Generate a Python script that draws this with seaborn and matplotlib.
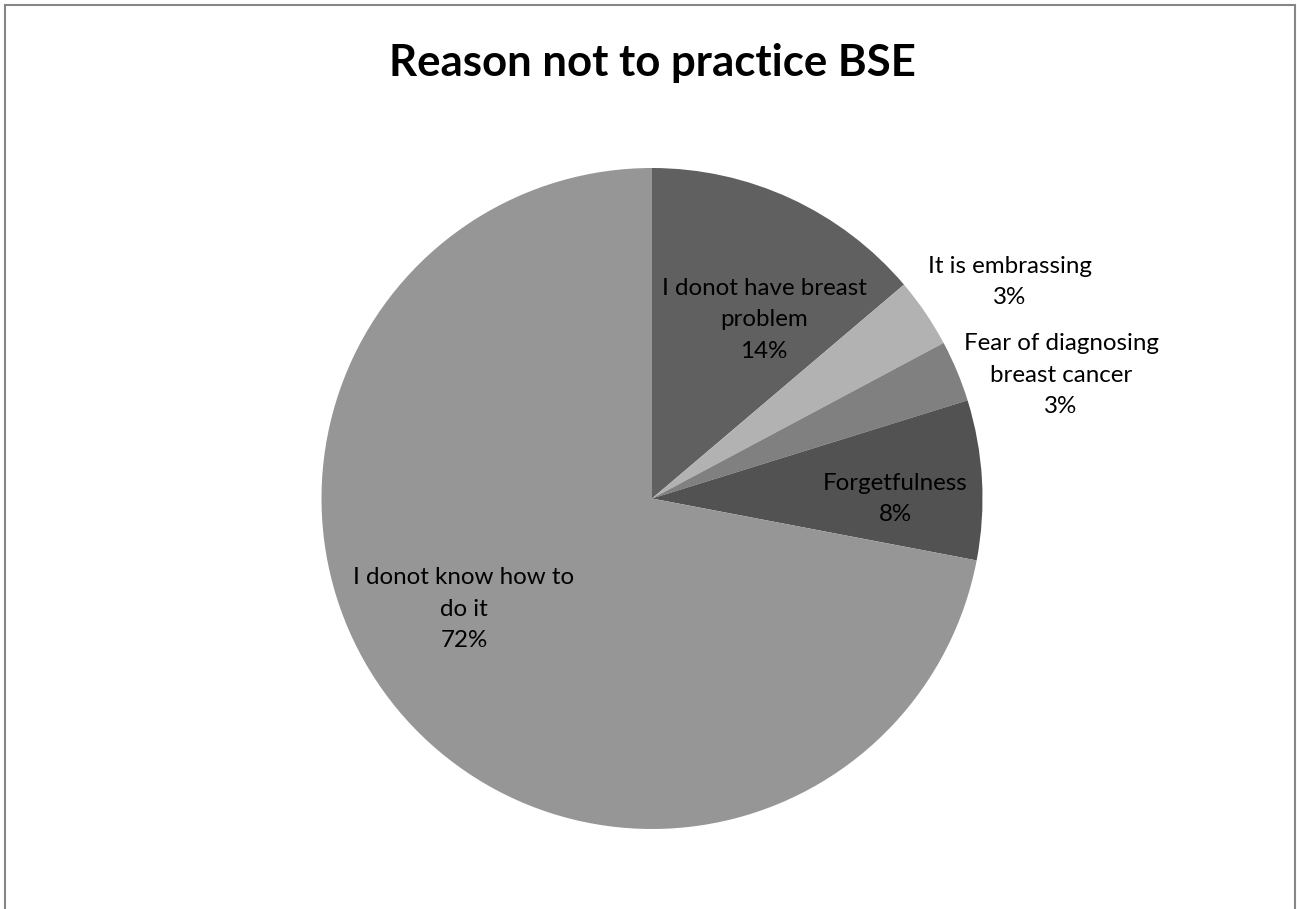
import matplotlib
matplotlib.use("Agg")
import matplotlib.pyplot as plt
import seaborn as sns
from matplotlib.patches import Rectangle

# data (clockwise from 12 o'clock)
reasons = ["I donot have breast\nproblem", "It is embrassing",
           "Fear of diagnosing\nbreast cancer", "Forgetfulness",
           "I donot know how to\ndo it"]
shares = [13.8, 3.4, 3.0, 7.8, 72.0]
colors = ["#606060", "#b2b2b2", "#808080", "#525252", "#969696"]

sns.set_theme(style="white")
plt.rcParams["font.family"] = ["Lato", "DejaVu Sans"]

W, H = 1297, 909
fig = plt.figure(figsize=(W / 100, H / 100), dpi=100)
ax = fig.add_axes([0, 0, 1, 1])

cx, cy, r = 652, 498.5, 330.5
ax.pie(shares, colors=colors, startangle=90, counterclock=False,
       center=(cx, H - cy), radius=r, wedgeprops=dict(linewidth=0))
ax.set_xlim(0, W)
ax.set_ylim(0, H)
ax.set_aspect("equal")
ax.axis("off")

# label centres in pixels from top-left
label_pos = [(764, 320), (1010, 282), (1061, 375), (895, 499), (464, 609)]
for name, val, (x, y) in zip(reasons, shares, label_pos):
    ax.text(x, H - y, f"{name}\n{round(val)}%", ha="center", va="center",
            fontsize=17.4, linespacing=1.6, color="black")

ax.text(652, H - 63, "Reason not to practice BSE", ha="center", va="center",
        fontsize=31.5, fontweight="bold", color="black")

# chart frame
ax.add_patch(Rectangle((5, -20), 1290, H - 5 + 20, fill=False,
                       edgecolor="#868686", lw=1.5, clip_on=False))

fig.savefig("out.png", dpi=100)
